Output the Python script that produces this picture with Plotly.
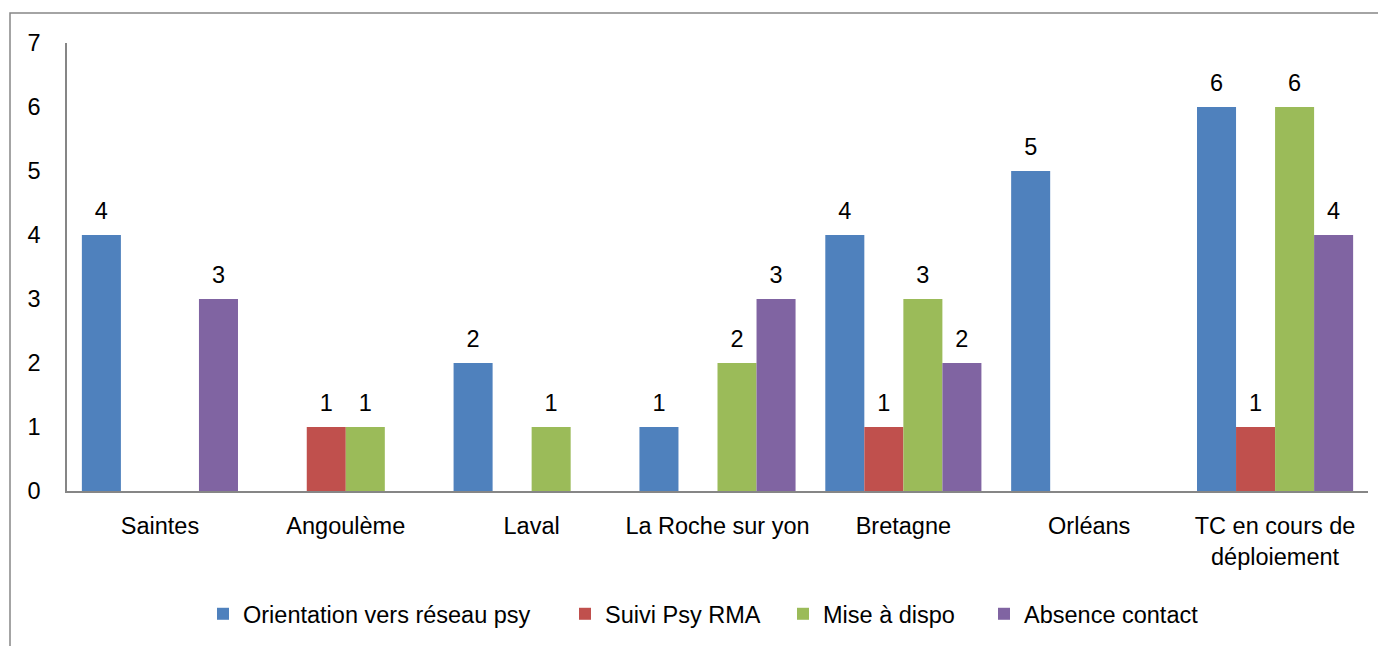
import plotly.graph_objects as go

categories = ["Saintes", "Angoulème", "Laval", "La Roche sur yon", "Bretagne", "Orléans",
              "TC en cours de<br>déploiement"]
orientation = [4, 0, 2, 1, 4, 5, 6]
suivi_psy = [0, 1, 0, 0, 1, 0, 1]
mise_dispo = [0, 1, 1, 2, 3, 0, 6]
absence = [3, 0, 0, 3, 2, 0, 4]
series_names = ["Orientation vers réseau psy", "Suivi Psy RMA", "Mise à dispo", "Absence contact"]
colors = ["#4F81BD", "#C0504D", "#9BBB59", "#8064A2"]
y_ticks = [0, 1, 2, 3, 4, 5, 6, 7]

FONT = "Liberation Sans"
FS = 23.5
OFF = 8  # browser body margin
W, H = 1386 - OFF, 646 - OFF
L, R, T, B = 67 - OFF, 18, 43 - OFF, 155
pw = W - L - R
ph = H - T - B

# legend square left edges in page pixels
legend_px = [217, 579, 797, 998]
legend_names = ["legend", "legend2", "legend3", "legend4"]

fig = go.Figure()
for name, vals, col, lg in zip(series_names, [orientation, suivi_psy, mise_dispo, absence], colors, legend_names):
    fig.add_trace(go.Bar(
        x=categories, y=vals, name=name, legend=lg,
        marker=dict(color=col, line=dict(color=col, width=0)),
        offsetgroup=name, alignmentgroup="g",
    ))
for name, vals in zip(series_names, [orientation, suivi_psy, mise_dispo, absence]):
    fig.add_trace(go.Scatter(
        x=categories, y=vals, mode="markers+text", showlegend=False, hoverinfo="skip",
        marker=dict(size=15, opacity=0),
        text=[str(v) if v else "" for v in vals], textposition="top center",
        textfont=dict(family=FONT, size=FS, color="#000000"),
        offsetgroup=name, alignmentgroup="g", cliponaxis=False,
    ))

legends = {}
for lg, px in zip(legend_names, legend_px):
    legends[lg] = dict(orientation="h", x=(px - 14 - 67) / pw, xanchor="left",
                       y=-123 / ph, yanchor="middle", font=dict(family=FONT, size=FS),
                       itemwidth=30, bgcolor="rgba(0,0,0,0)")

fig.update_layout(
    width=W, height=H,
    margin=dict(l=L, r=R, t=T, b=B, pad=0, autoexpand=False),
    paper_bgcolor="white", plot_bgcolor="white",
    barmode="group", bargap=0.16, bargroupgap=0,
    scattermode="group", scattergap=0.16,
    font=dict(family=FONT, size=FS, color="#000000"),
    showlegend=True,
    xaxis=dict(showline=True, linecolor="#868686", linewidth=1.5, showgrid=False, automargin=False,
               ticks="", ticklabelstandoff=13, tickfont=dict(family=FONT, size=FS)),
    yaxis=dict(range=[0, 7], tickvals=y_ticks, showline=True, linecolor="#868686", linewidth=1.5,
               showgrid=False, zeroline=False, ticks="", ticklabelstandoff=20, automargin=False,
               tickfont=dict(family=FONT, size=FS)),
    shapes=[dict(type="rect", xref="paper", yref="paper",
                 x0=-(67 - 10) / pw, x1=(W - L + 50) / pw,
                 y0=-(B + 50) / ph, y1=(ph + 43 - 13) / ph,
                 line=dict(color="#868686", width=1.5), fillcolor="rgba(0,0,0,0)", layer="below")],
    **legends,
)

fig.write_html("out.html")
